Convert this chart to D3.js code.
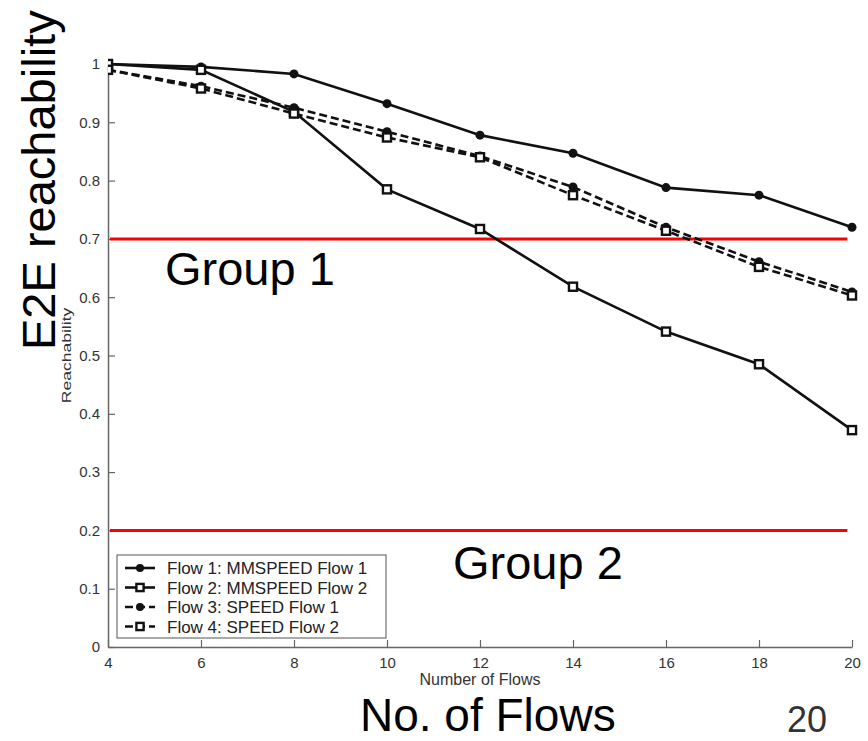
<!DOCTYPE html>
<html>
<head>
<meta charset="utf-8">
<script src="https://cdn.jsdelivr.net/npm/d3@7"></script>
<style>
  body { margin: 0; background: #fff; }
  svg { display: block; font-family: Arial, "Liberation Sans", sans-serif; }
</style>
</head>
<body>
<svg id="chart" width="868" height="741"></svg>
<script>
// E2E reachability vs number of flows (slide with a MATLAB plot)

const flows = [4, 6, 8, 10, 12, 14, 16, 18, 20];
const mmspeedFlow1 = [1.0, 0.995, 0.983, 0.932, 0.878, 0.847, 0.788, 0.775, 0.72];
const mmspeedFlow2 = [1.0, 0.99, 0.918, 0.785, 0.717, 0.618, 0.541, 0.485, 0.372];
const speedFlow1   = [0.99, 0.962, 0.925, 0.884, 0.842, 0.789, 0.72, 0.661, 0.609];
const speedFlow2   = [0.99, 0.958, 0.915, 0.874, 0.84, 0.775, 0.714, 0.652, 0.603];
const seriesNames = ["Flow 1: MMSPEED Flow 1", "Flow 2: MMSPEED Flow 2", "Flow 3: SPEED Flow 1", "Flow 4: SPEED Flow 2"];
const xTicks = [4, 6, 8, 10, 12, 14, 16, 18, 20];
const yTicks = [0, 0.1, 0.2, 0.3, 0.4, 0.5, 0.6, 0.7, 0.8, 0.9, 1];
const thresholds = [0.7, 0.2];

const svg = d3.select("#chart");
const W = +svg.attr("width"), H = +svg.attr("height");

const x = d3.scaleLinear().domain([4, 20]).range([108, 852]);
const y = d3.scaleLinear().domain([0, 1]).range([647, 64]);

svg.append("rect").attr("width", W).attr("height", H).attr("fill", "#fff");

// --- axes (MATLAB style: inward ticks, grey) ---
const xAxis = svg.append("g")
  .attr("transform", `translate(0,${y(0)})`)
  .call(d3.axisBottom(x).tickValues(xTicks).tickSize(-7).tickSizeOuter(0).tickPadding(10).tickFormat(d3.format("d")));
const yAxis = svg.append("g")
  .attr("transform", `translate(${x(4)},0)`)
  .call(d3.axisLeft(y).tickValues(yTicks).tickSize(-7).tickSizeOuter(0).tickPadding(8).tickFormat(d => d === 0 || d === 1 ? d3.format("d")(d) : d3.format(".1f")(d)));

[xAxis, yAxis].forEach(a => {
  a.select(".domain").attr("stroke", "#666").attr("stroke-width", 1.5);
  a.selectAll(".tick line").attr("stroke", "#666").attr("stroke-width", 1.2);
  a.selectAll(".tick text").attr("fill", "#333").attr("font-size", 15).attr("font-family", "Arial, 'Liberation Sans', sans-serif");
});

// small axis titles
svg.append("text")
  .attr("x", x(12)).attr("y", 685)
  .attr("text-anchor", "middle").attr("font-size", 16).attr("fill", "#333")
  .text("Number of Flows");
svg.append("text")
  .attr("transform", `translate(71,${(y(0) + y(1)) / 2}) rotate(-90) scale(1.35,1)`)
  .attr("text-anchor", "middle").attr("font-size", 13).attr("fill", "#333")
  .text("Reachability");

// --- red threshold lines ---
svg.selectAll("line.thr").data(thresholds).enter().append("line")
  .attr("class", "thr")
  .attr("x1", x(4) + 2).attr("x2", x(19.9))
  .attr("y1", d => y(d)).attr("y2", d => y(d))
  .attr("stroke", "#f00").attr("stroke-width", 3);

// --- series ---
const series = [
  { name: seriesNames[0], values: mmspeedFlow1, dash: null, marker: "dot" },
  { name: seriesNames[1], values: mmspeedFlow2, dash: null, marker: "square" },
  { name: seriesNames[2], values: speedFlow1, dash: "8,4", marker: "dot" },
  { name: seriesNames[3], values: speedFlow2, dash: "8,4", marker: "square" }
];

svg.append("clipPath").attr("id", "plotclip")
  .append("rect").attr("x", x(4)).attr("y", 0).attr("width", x(20) - x(4) + 10).attr("height", y(0));

const line = d3.line().x((d, i) => x(flows[i])).y(d => y(d));
const plot = svg.append("g").attr("clip-path", "url(#plotclip)");

function drawMarker(g, kind, cx, cy, sz) {
  const r = sz || 4.5;
  if (kind === "dot") {
    g.append("circle").attr("cx", cx).attr("cy", cy).attr("r", r).attr("fill", "#111");
  } else {
    g.append("rect").attr("x", cx - r * 0.9).attr("y", cy - r * 0.9).attr("width", r * 1.8).attr("height", r * 1.8)
      .attr("fill", "#fff").attr("stroke", "#111").attr("stroke-width", 2.4);
  }
}

series.forEach(s => {
  plot.append("path").datum(s.values)
    .attr("d", line)
    .attr("fill", "none").attr("stroke", "#111").attr("stroke-width", 2.6)
    .attr("stroke-dasharray", s.dash);
  s.values.forEach((v, i) => drawMarker(plot, s.marker, x(flows[i]), y(v)));
});

// --- legend ---
const lg = svg.append("g").attr("transform", "translate(117,555)");
lg.append("rect").attr("width", 269).attr("height", 83)
  .attr("fill", "#fff").attr("stroke", "#555").attr("stroke-width", 1);
series.forEach((s, i) => {
  const cy = 13 + i * 19.5;
  lg.append("line").attr("x1", 8).attr("x2", 38).attr("y1", cy).attr("y2", cy)
    .attr("stroke", "#111").attr("stroke-width", 2.6).attr("stroke-dasharray", s.dash);
  drawMarker(lg, s.marker, 23, cy, 4);
  lg.append("text").attr("x", 50).attr("y", cy + 6)
    .attr("font-size", 17).attr("fill", "#222").text(s.name);
});

// --- slide annotations (large text) ---
const big = 47;
svg.append("text")
  .attr("transform", "translate(55,350) rotate(-90)")
  .attr("font-size", big).attr("fill", "#000")
  .text("E2E reachability");
svg.append("text").attr("x", 165).attr("y", 285).attr("font-size", big).attr("fill", "#000").text("Group 1");
svg.append("text").attr("x", 453).attr("y", 579).attr("font-size", big).attr("fill", "#000").text("Group 2");
svg.append("text").attr("x", 360).attr("y", 731).attr("font-size", 46).attr("fill", "#000").text("No. of Flows");
svg.append("text").attr("x", 787).attr("y", 732).attr("font-size", 36).attr("fill", "#333").text("20");
</script>
</body>
</html>
